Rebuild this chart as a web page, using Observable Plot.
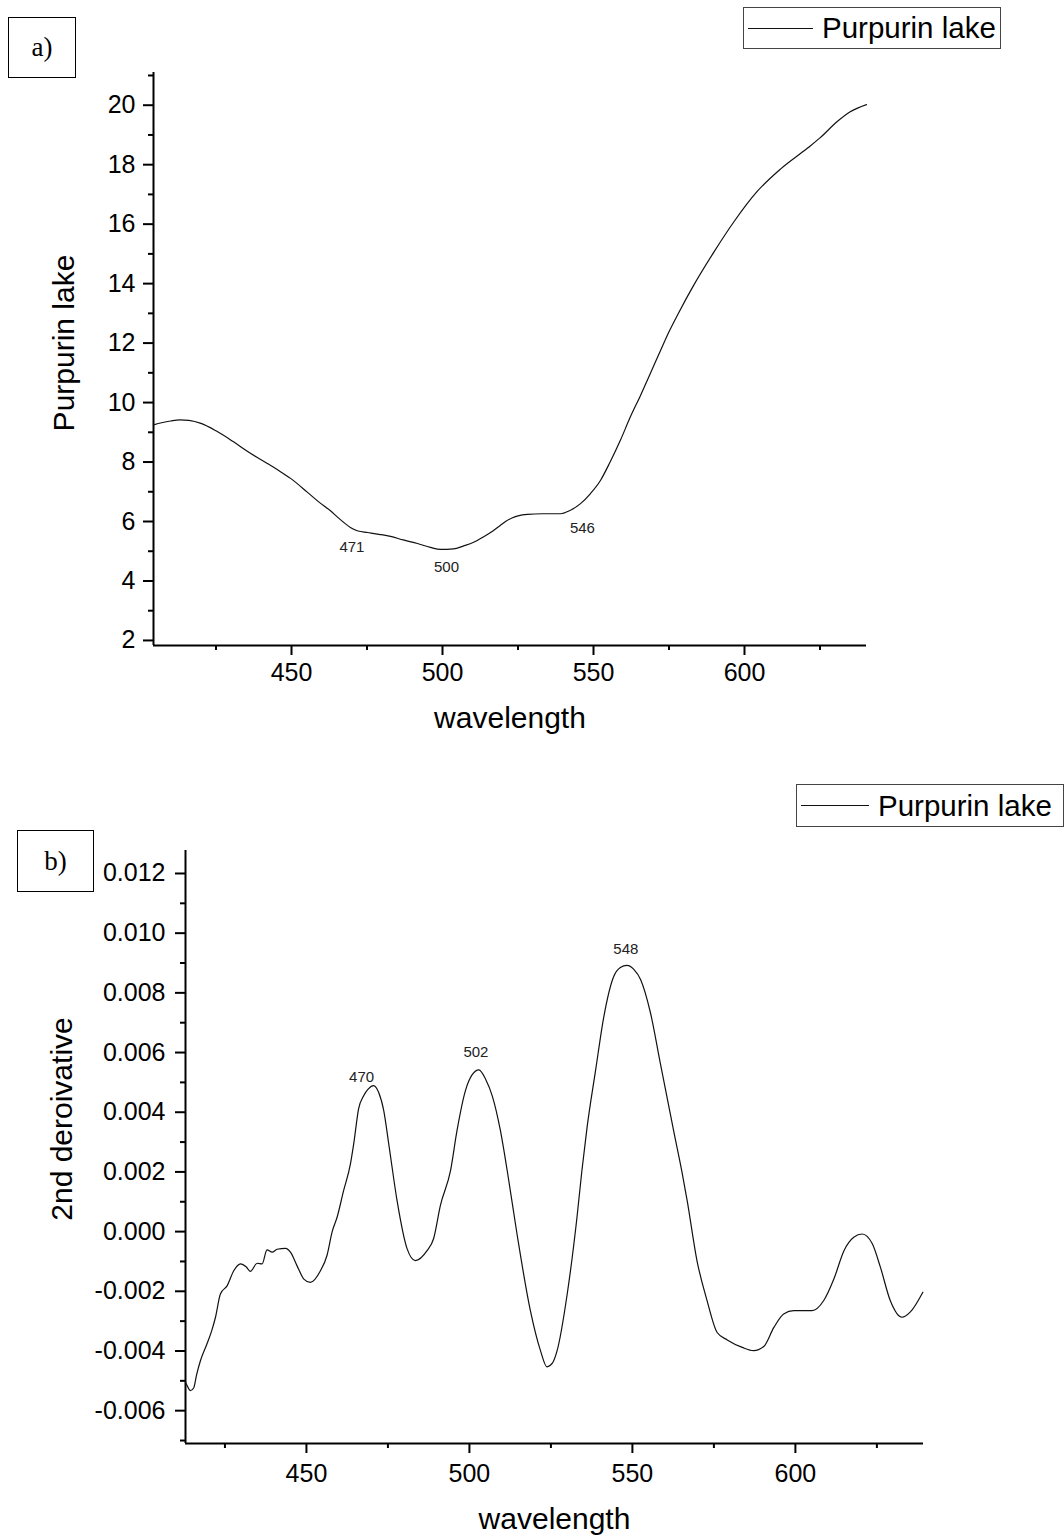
<!DOCTYPE html>
<html>
<head>
<meta charset="utf-8">
<script src="https://cdn.jsdelivr.net/npm/d3@7"></script>
<script src="https://cdn.jsdelivr.net/npm/@observablehq/plot@0.6"></script>
<style>
  html, body { margin: 0; padding: 0; background: #fff; }
  #page { position: relative; width: 1064px; height: 1538px; overflow: hidden; font-family: "Liberation Sans", Arial, sans-serif; }
  .panel { position: absolute; left: 0; }
  .legend { position: absolute; border: 1.5px solid #444; background: #fff; display: flex; align-items: center; box-sizing: border-box; }
  .legend .swatch { display: inline-block; height: 0; border-top: 1.3px solid #111; }
  .legend .txt { font-family: "Liberation Sans", Arial, sans-serif; font-size: 29.5px; color: #000; white-space: nowrap; }
  .tag { position: absolute; border: 1.5px solid #000; box-sizing: border-box; display: flex; align-items: center; justify-content: center; font-family: "Liberation Serif", "Times New Roman", serif; font-size: 27px; color: #000; }
</style>
</head>
<body>
<div id="page"></div>
<script>
// ---------- Data: panel a (Purpurin lake spectrum) ----------
const wlA = [404.3, 407, 410, 413, 416, 420, 425, 430.8, 436, 442, 446, 449.7, 455.3, 459, 462.9, 466, 469.5, 472, 475.2, 479, 482.8, 487, 491.7, 496, 499.3, 503.6, 507, 510.3, 513.5, 516.9, 519, 521, 523, 525, 528.1, 533, 539.1, 542, 545.7, 549, 552.3, 555.5, 558.9, 562, 565.6, 569, 572.2, 575, 578, 583.2, 589.8, 596.5, 604.2, 611.9, 620.8, 625, 630.7, 635, 640.4];
const valA = [9.25, 9.32, 9.38, 9.42, 9.40, 9.30, 9.05, 8.68, 8.32, 7.95, 7.70, 7.45, 6.98, 6.66, 6.36, 6.08, 5.80, 5.68, 5.63, 5.57, 5.50, 5.38, 5.26, 5.13, 5.06, 5.08, 5.18, 5.30, 5.48, 5.70, 5.86, 6.01, 6.12, 6.19, 6.24, 6.26, 6.26, 6.36, 6.60, 6.94, 7.38, 8.00, 8.73, 9.47, 10.25, 11.02, 11.75, 12.38, 12.98, 13.95, 15.05, 16.08, 17.10, 17.85, 18.55, 18.90, 19.45, 19.78, 20.02];
const peakWlA = [471, 500, 546];
const peakValA = [5.72, 5.06, 6.64];

// ---------- Data: panel b (2nd derivative) ----------
const wlB = [412.9, 413.4, 414.4, 415.4, 416.3, 417.5, 419.5, 421.0, 422.1, 423.6, 425.7, 427.7, 429.8, 431.5, 432.8, 434.9, 436.4, 437.9, 439.5, 441.0, 443.6, 445.1, 447.1, 449.2, 451.2, 454.3, 456.3, 457.9, 459.4, 461.4, 463.5, 464.5, 466.0, 467.6, 469.0, 470.6, 472.2, 473.7, 475.3, 477.8, 480.9, 483.4, 487.0, 489.0, 491.1, 494.2, 496.2, 498.8, 500.8, 502.9, 505.0, 507.0, 509.5, 511.6, 514.6, 518.7, 521.8, 523.8, 525.5, 526.9, 530.0, 533.0, 534.5, 536.1, 538.7, 541.2, 544.2, 546.3, 548.3, 550.5, 552.5, 555.5, 558.6, 562.7, 565.2, 566.8, 569.8, 572.9, 576.0, 579.1, 583.7, 587.2, 590.3, 593.4, 596.4, 599.5, 605.1, 608.7, 611.8, 614.9, 617.9, 620.5, 623.6, 626.1, 629.1, 632.7, 635.2, 639.1];
const valB = [-0.00505, -0.00516, -0.00533, -0.00524, -0.00480, -0.00432, -0.00376, -0.00330, -0.00287, -0.00209, -0.00181, -0.00131, -0.00108, -0.00118, -0.00133, -0.00106, -0.00108, -0.00061, -0.00069, -0.00059, -0.00056, -0.00069, -0.00114, -0.00159, -0.00170, -0.00131, -0.00080, 0.00000, 0.00048, 0.00137, 0.00227, 0.00294, 0.00411, 0.00456, 0.00478, 0.00489, 0.00465, 0.00406, 0.00290, 0.00104, -0.00058, -0.00097, -0.00064, -0.00024, 0.00088, 0.00204, 0.00339, 0.00473, 0.00525, 0.00542, 0.00510, 0.00455, 0.00339, 0.00204, -0.00008, -0.00265, -0.00399, -0.00453, -0.00440, -0.00399, -0.00209, 0.00048, 0.00204, 0.00350, 0.00540, 0.00718, 0.00853, 0.00885, 0.00892, 0.00878, 0.00845, 0.00735, 0.00562, 0.00335, 0.00200, 0.00104, -0.00097, -0.00231, -0.00338, -0.00363, -0.00388, -0.00399, -0.00385, -0.00321, -0.00276, -0.00265, -0.00265, -0.00231, -0.00159, -0.00064, -0.00019, -0.00008, -0.00041, -0.00120, -0.00231, -0.00287, -0.00270, -0.00203];
const peakWlB = [470, 502, 548];
const peakValB = [0.00489, 0.00542, 0.00892];

// ---------- Axis ticks & labels ----------
const xMajor = [450, 500, 550, 600];
const xMinor = [425, 475, 525, 575, 625];
const yMajorA = [2, 4, 6, 8, 10, 12, 14, 16, 18, 20];
const yMinorA = [3, 5, 7, 9, 11, 13, 15, 17, 19, 21];
const yMajorB = [-0.006, -0.004, -0.002, 0, 0.002, 0.004, 0.006, 0.008, 0.010, 0.012];
const yMinorB = [-0.007, -0.005, -0.003, -0.001, 0.001, 0.003, 0.005, 0.007, 0.009, 0.011];
const xTitle = "wavelength";
const yTitleA = "Purpurin lake";
const yTitleB = "2nd deroivative";
const seriesName = "Purpurin lake";

const rowsA = wlA.map((w, i) => ({wl: w, v: valA[i]}));
const rowsB = wlB.map((w, i) => ({wl: w, v: valB[i]}));
const peaksA = peakWlA.map((w, i) => ({wl: w, v: peakValA[i], label: String(w)}));
const peaksB = peakWlB.map((w, i) => ({wl: w, v: peakValB[i], label: String(w)}));

const FONT = "Liberation Sans, Arial, sans-serif";

function axesMarks(xMaj, xMin, yMaj, yMin, yFmt, xDomain, yDomain, xPad, yPad) {
  return [
    Plot.axisX(xMaj, {tickSize: 10, tickPadding: xPad, strokeWidth: 2, fontSize: 25, fill: "#000", label: null, tickFormat: d => String(d)}),
    Plot.axisX(xMin, {tickSize: 5, strokeWidth: 2, label: null, tickFormat: () => ""}),
    Plot.axisY(yMaj, {tickSize: 10, tickPadding: yPad, strokeWidth: 2, fontSize: 25, fill: "#000", label: null, tickFormat: yFmt}),
    Plot.axisY(yMin, {tickSize: 5, strokeWidth: 2, label: null, tickFormat: () => ""}),
    Plot.ruleX([xDomain[0]], {stroke: "#000", strokeWidth: 2}),
    Plot.ruleY([yDomain[0]], {stroke: "#000", strokeWidth: 2})
  ];
}

const page = document.getElementById("page");

// ---------- Panel a ----------
const xDomA = [404.3, 640.4];
const yDomA = [1.83, 21.1];
const plotA = Plot.plot({
  width: 1064,
  height: 760,
  marginTop: 72,
  marginBottom: 115,
  marginLeft: 153,
  marginRight: 198,
  style: {fontFamily: FONT, fontSize: "25px", color: "#000", background: "transparent", overflow: "visible"},
  x: {domain: xDomA, label: null},
  y: {domain: yDomA, label: null},
  marks: [
    ...axesMarks(xMajor, xMinor, yMajorA, yMinorA, d => String(d), xDomA, yDomA, 8, 8),
    Plot.line(rowsA, {x: "wl", y: "v", stroke: "#111", strokeWidth: 1.2, curve: "monotone-x"}),
    ...peaksA.map((p, i) => Plot.text([p], {x: "wl", y: "v", text: "label", fontSize: 15, fill: "#222", lineAnchor: "top", dx: [-3, 4, 1][i], dy: [12, 12, 20][i]})),
    Plot.text([xTitle], {frameAnchor: "bottom", text: d => d, fontSize: 30, fill: "#000", lineAnchor: "middle", textAnchor: "middle", dy: 73}),
    Plot.text([yTitleA], {frameAnchor: "left", text: d => d, fontSize: 30, fill: "#000", rotate: -90, lineAnchor: "middle", textAnchor: "middle", dx: -89, dy: -16})
  ]
});
plotA.classList.add("panel");
plotA.style.top = "0px";
page.appendChild(plotA);

// ---------- Panel b ----------
const xDomB = [412.9, 639.3];
const yDomB = [-0.0071, 0.01277];
const plotB = Plot.plot({
  width: 1064,
  height: 778,
  marginTop: 90,
  marginBottom: 95,
  marginLeft: 185,
  marginRight: 141,
  style: {fontFamily: FONT, fontSize: "25px", color: "#000", background: "transparent", overflow: "visible"},
  x: {domain: xDomB, label: null},
  y: {domain: yDomB, label: null},
  marks: [
    ...axesMarks(xMajor, xMinor, yMajorB, yMinorB, d => d.toFixed(3), xDomB, yDomB, 11, 10),
    Plot.line(rowsB, {x: "wl", y: "v", stroke: "#111", strokeWidth: 1.2, curve: "monotone-x"}),
    ...peaksB.map((p, i) => Plot.text([p], {x: "wl", y: "v", text: "label", fontSize: 15, fill: "#222", lineAnchor: "bottom", dx: [-10, 0, 0][i], dy: [-4, -13, -11][i]})),
    Plot.text([xTitle], {frameAnchor: "bottom", text: d => d, fontSize: 30, fill: "#000", lineAnchor: "middle", textAnchor: "middle", dy: 76}),
    Plot.text([yTitleB], {frameAnchor: "left", text: d => d, fontSize: 30, fill: "#000", rotate: -90, lineAnchor: "middle", textAnchor: "middle", dx: -123, dy: -28})
  ]
});
plotB.classList.add("panel");
plotB.style.top = "760px";
page.appendChild(plotB);

// ---------- Legends and panel tags ----------
function legend(left, top, w, h, lineW) {
  const d = document.createElement("div");
  d.className = "legend";
  Object.assign(d.style, {left: left + "px", top: top + "px", width: w + "px", height: h + "px", paddingLeft: "4px"});
  const s = document.createElement("span");
  s.className = "swatch";
  s.style.width = lineW + "px";
  s.style.marginRight = "9px";
  const t = document.createElement("span");
  t.className = "txt";
  t.textContent = seriesName;
  d.appendChild(s); d.appendChild(t);
  page.appendChild(d);
}
legend(743, 7, 258, 42, 65);
legend(796, 784, 268, 43, 68);

function tag(text, left, top, w, h) {
  const d = document.createElement("div");
  d.className = "tag";
  Object.assign(d.style, {left: left + "px", top: top + "px", width: w + "px", height: h + "px"});
  d.textContent = text;
  page.appendChild(d);
}
tag("a)", 8, 17, 68, 61);
tag("b)", 17, 830, 77, 62);
</script>
</body>
</html>
